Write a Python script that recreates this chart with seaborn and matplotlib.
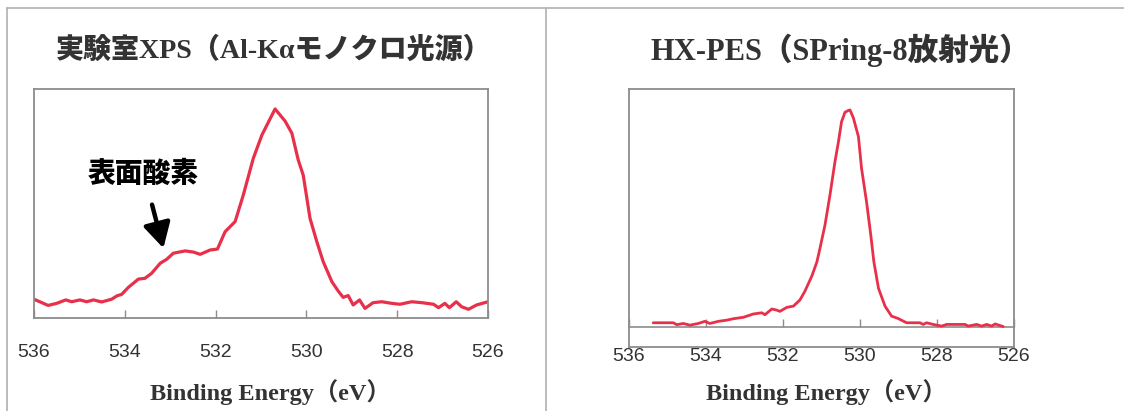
import matplotlib
matplotlib.use("Agg")
import matplotlib.pyplot as plt
from matplotlib.lines import Line2D
import seaborn as sns
import pandas as pd

# ---- data (binding energy in eV, normalised intensity) ----
lab_energy = [536.00, 535.69, 535.50, 535.30, 535.17, 534.99, 534.84, 534.69, 534.51, 534.29,
              534.17, 534.07, 533.92, 533.70, 533.56, 533.41, 533.22, 533.08, 532.93, 532.67,
              532.49, 532.34, 532.12, 531.96, 531.79, 531.57, 531.39, 531.17, 530.98, 530.69,
              530.47, 530.32, 530.18, 530.07, 529.92, 529.77, 529.63, 529.44, 529.30, 529.19,
              529.08, 528.97, 528.83, 528.71, 528.53, 528.34, 528.12, 527.94, 527.68, 527.46,
              527.20, 527.09, 526.95, 526.85, 526.70, 526.58, 526.43, 526.25, 526.00]
lab_intensity = [0.082, 0.055, 0.064, 0.079, 0.071, 0.079, 0.071, 0.079, 0.070, 0.082,
                 0.097, 0.103, 0.134, 0.170, 0.173, 0.195, 0.239, 0.256, 0.283, 0.293,
                 0.288, 0.278, 0.297, 0.301, 0.377, 0.421, 0.537, 0.697, 0.799, 0.913,
                 0.860, 0.807, 0.690, 0.624, 0.435, 0.333, 0.246, 0.159, 0.118, 0.090,
                 0.098, 0.057, 0.079, 0.042, 0.067, 0.071, 0.064, 0.060, 0.071, 0.067,
                 0.060, 0.045, 0.064, 0.045, 0.071, 0.049, 0.038, 0.057, 0.071]

hx_energy = [535.37, 534.85, 534.76, 534.59, 534.42, 534.20, 534.03, 533.90, 533.68, 533.46,
             533.29, 533.03, 532.77, 532.55, 532.47, 532.29, 532.16, 532.08, 531.90, 531.73,
             531.56, 531.43, 531.25, 531.12, 531.04, 530.91, 530.78, 530.65, 530.56, 530.48,
             530.39, 530.31, 530.26, 530.17, 530.04, 529.96, 529.83, 529.72, 529.64, 529.52,
             529.35, 529.18, 529.01, 528.79, 528.44, 528.36, 528.27, 528.10, 527.88, 527.75,
             527.27, 527.19, 526.97, 526.84, 526.71, 526.58, 526.49, 526.28]
hx_intensity = [0.016, 0.016, 0.008, 0.013, 0.006, 0.013, 0.022, 0.013, 0.022, 0.027,
                0.033, 0.039, 0.053, 0.058, 0.050, 0.074, 0.069, 0.064, 0.081, 0.086,
                0.112, 0.149, 0.213, 0.272, 0.329, 0.427, 0.554, 0.694, 0.778, 0.862,
                0.902, 0.909, 0.912, 0.877, 0.799, 0.666, 0.525, 0.385, 0.273, 0.161,
                0.086, 0.044, 0.034, 0.016, 0.016, 0.009, 0.016, 0.009, 0.002, 0.009,
                0.009, 0.002, 0.009, 0.002, 0.009, 0.002, 0.011, 0.000]

tick_values = [536, 534, 532, 530, 528, 526]
tick_labels = ["536", "534", "532", "530", "528", "526"]

title_left = "実験室XPS（Al-Kαモノクロ光源）"
title_right = "HX-PES（SPring-8放射光）"
xlabel_text = "Binding Energy（eV）"
annot_text = "表面酸素"

# ---- style ----
sns.set_style("white")
plt.rcParams["font.family"] = ["Liberation Serif", "Noto Sans CJK JP", "DejaVu Sans"]

RED = "#e8304a"
GREY = "#8c8c8c"
TXT = "#333333"
num_font = ["Liberation Sans Narrow", "Liberation Sans", "DejaVu Sans"]
title_font = ["Liberation Serif", "Noto Sans CJK JP", "DejaVu Sans"]

fig = plt.figure(figsize=(11.24, 4.11), dpi=100)

df_lab = pd.DataFrame({"E": lab_energy, "I": lab_intensity})
df_hx = pd.DataFrame({"E": hx_energy, "I": hx_intensity})

# ---- left panel ----
axL = fig.add_axes([34 / 1124, (411 - 318) / 411, 454 / 1124, 229 / 411])
sns.lineplot(data=df_lab, x="E", y="I", ax=axL, color=RED, lw=2.3)
axL.set_xlim(536, 526)
axL.set_ylim(0, 1)
axL.set_yticks([])
axL.set_xticks(tick_values)
axL.set_xticklabels(tick_labels, family=num_font, fontsize=14, color=TXT)
axL.tick_params(axis="x", direction="in", length=6, width=1, color=GREY, pad=19, bottom=True)
axL.set_xlabel("")
axL.set_ylabel("")
for s in axL.spines.values():
    s.set_color(GREY)
    s.set_linewidth(1.3)

axL.annotate("", xy=(533.15, 0.305), xytext=(533.40, 0.495),
             arrowprops=dict(arrowstyle="-|>,head_length=1.0,head_width=0.55",
                             lw=3.2, color="black", mutation_scale=15, shrinkA=0, shrinkB=0))
axL.text(533.60, 0.630, annot_text, ha="center", va="center", fontsize=20,
         fontweight="heavy", color="black", family=["Noto Sans CJK JP", "DejaVu Sans"])

# ---- right panel ----
axR = fig.add_axes([629 / 1124, (411 - 347) / 411, 385 / 1124, 258 / 411])
sns.lineplot(data=df_hx, x="E", y="I", ax=axR, color=RED, lw=2.0)
axR.set_xlim(536, 526)
axR.set_ylim(-0.086, 1.0)
axR.set_yticks([])
axR.set_xticks(tick_values)
axR.set_xticklabels(tick_labels, family=num_font, fontsize=14, color=TXT)
axR.tick_params(axis="x", length=0, pad=1)
axR.set_xlabel("")
axR.set_ylabel("")
for s in axR.spines.values():
    s.set_color(GREY)
    s.set_linewidth(1.3)

base = axR.secondary_xaxis(0, transform=axR.transData)
base.set_xticks(tick_values)
base.tick_params(axis="x", direction="in", length=6, width=1, color=GREY, labelbottom=False)
base.spines["bottom"].set_color(GREY)
base.spines["bottom"].set_linewidth(1.2)

# ---- titles and axis labels ----
fig.text(274 / 1124, 1 - 50 / 411, title_left, ha="center", va="center", fontsize=20.2,
         fontweight="heavy", color=TXT, family=title_font)
fig.text(840 / 1124, 1 - 50 / 411, title_right, ha="center", va="center", fontsize=22,
         fontweight="heavy", color=TXT, family=title_font)
fig.text(270 / 1124, 1 - 392 / 411, xlabel_text, ha="center", va="center", fontsize=17.5,
         fontweight="bold", color=TXT, family=title_font)
fig.text(826 / 1124, 1 - 392 / 411, xlabel_text, ha="center", va="center", fontsize=17.5,
         fontweight="bold", color=TXT, family=title_font)

# ---- outer frame lines ----
fc = "#b0b0b0"
fig.add_artist(Line2D([7 / 1124, 1.0], [1 - 8 / 411, 1 - 8 / 411], color=fc, lw=1.2, transform=fig.transFigure))
fig.add_artist(Line2D([7 / 1124, 7 / 1124], [0, 1 - 8 / 411], color=fc, lw=1.2, transform=fig.transFigure))
fig.add_artist(Line2D([546 / 1124, 546 / 1124], [0, 1 - 8 / 411], color=fc, lw=1.2, transform=fig.transFigure))

fig.savefig("out.png", dpi=100)
